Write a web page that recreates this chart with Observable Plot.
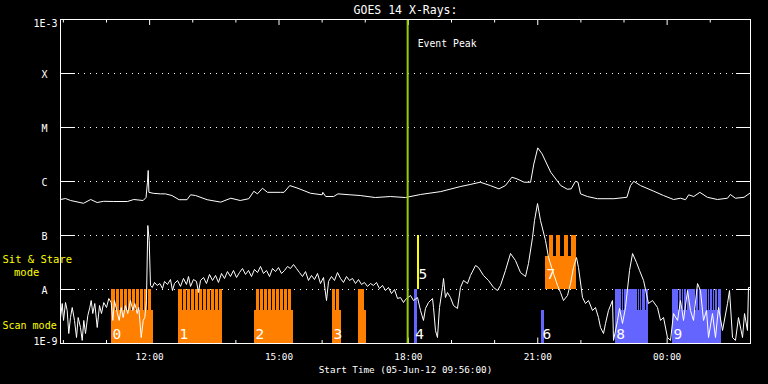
<!DOCTYPE html>
<html><head><meta charset="utf-8">
<script src="https://cdn.jsdelivr.net/npm/d3@7"></script>
<script src="https://cdn.jsdelivr.net/npm/@observablehq/plot@0.6"></script>
<style>
html,body{margin:0;padding:0;background:#000;}
#chart svg{display:block;}
</style></head><body><div id="chart"></div>
<script>
// ---------- data ----------
const startTimeISO = "2012-06-05T09:56:00Z";
const durationMin = 960;           // plotted span (16 h)
const eventPeakMin = 483;          // event peak, minutes after start
const titleText = "GOES 14 X-Rays:";
const xLabelText = "Start Time (05-Jun-12 09:56:00)";
const eventLabel = "Event Peak";

const yTickValues = [1e-9, 1e-8, 1e-7, 1e-6, 1e-5, 1e-4, 1e-3];
const yTickLabels = ["1E-9", "A", "B", "C", "M", "X", "1E-3"];
const gridLevels = [1e-8, 1e-7, 1e-6, 1e-5, 1e-4];
const xMajorTicks = ["2012-06-05T12:00Z", "2012-06-05T15:00Z", "2012-06-05T18:00Z", "2012-06-05T21:00Z", "2012-06-06T00:00Z"];

// GOES long channel (1-8 A), minutes after start / W m^-2
const longMin = [0,7,14,32,42,51,60,74,93,102,115,119,121,122,123,129,139,146,155,165,176,181,188,204,223,237,250,262,269,274,281,288,306,311,319,329,348,364,365,369,380,386,403,417,438,459,480,501,529,557,570,584,598,610,619,628,635,645,654,658.5,664,670,682,696,705,710.5,716.5,720,723.5,733,747,770,788,793,797.6,807,825.5,839,853,862.6,869.6,874,881,889.5,900,914,928,932,939,951,960];
const longFlux = [4.64e-7,4.84e-7,4.45e-7,3.95e-7,4.64e-7,4.08e-7,4.3e-7,4.26e-7,4.26e-7,4.64e-7,4.45e-7,5.05e-7,9.7e-7,1.6e-6,6.3e-7,6.05e-7,5.9e-7,5.9e-7,5.5e-7,4.6e-7,4.6e-7,5.67e-7,5.5e-7,4.6e-7,4.15e-7,4.9e-7,4.45e-7,4.8e-7,6.6e-7,5.9e-7,7.5e-7,6.3e-7,6.3e-7,6.3e-7,8.4e-7,7.6e-7,6.05e-7,5.67e-7,6.3e-7,5.27e-7,5.27e-7,5.9e-7,5.67e-7,5.5e-7,5.05e-7,5.27e-7,5.05e-7,5.75e-7,6.5e-7,8.1e-7,8.8e-7,9.7e-7,8.4e-7,7.3e-7,8.4e-7,1.2e-6,1.12e-6,9.7e-7,9.7e-7,2.1e-6,4.2e-6,3.25e-6,1.49e-6,8.4e-7,7.2e-7,7.3e-7,1.01e-6,9.7e-7,5.9e-7,5.27e-7,4.8e-7,4.8e-7,5.1e-7,8.4e-7,1.01e-6,8.4e-7,6.6e-7,5.5e-7,4.64e-7,4.9e-7,4.6e-7,5.67e-7,5.27e-7,6.3e-7,5.1e-7,4.64e-7,4.9e-7,5.75e-7,4.9e-7,5.1e-7,6.2e-7];

// GOES short channel (0.5-4 A), minutes after start / W m^-2
const shortMin = [0,2.4,4.2,7.0,9.3,11.5,13.9,16.3,19.5,22.3,24.6,27.8,30.2,32.4,34.8,38.0,40.8,42.7,44.9,47.7,51.1,54.3,57.0,60.2,64.0,67.2,70.5,72.8,75.1,78.9,81.7,84.5,87.2,90.4,93.6,97.4,100.6,103.4,106.7,108.9,112.3,115.1,117.3,119.6,121.5,123.4,125.2,127.6,130.8,134.5,138.2,141.9,144.7,148.9,153,155.8,158.6,162.8,167,171.1,175.3,178.1,180.9,185,189.2,192,194.8,199,203.1,207.3,211.5,215.7,219.8,224,228.2,232.3,236.5,240.7,244.9,249,253.2,257.4,261.6,265.7,269.9,274.1,278.3,282.4,286.6,290.8,295,299.1,303.3,307.5,311.7,315.8,320,324.2,328.3,332.5,336.7,340.9,345,349.2,353.4,357.6,361.7,365.9,370.1,372.9,377,381.2,385.4,389.6,393.7,397.9,402.1,406.3,410.4,414.6,418.8,422.9,427.1,431.3,435.5,439.6,443.8,448,452.2,456.3,460.5,464.7,468.9,473,477.2,480,487,491.1,496.7,500.9,505,507.8,512,517.6,519,521.7,524.5,527.3,531.5,532.9,535.6,538.4,542.6,546.8,552.3,556.5,560.7,566.3,570.4,577.4,581.6,588.5,595.5,602.5,608,612.2,619.1,626.1,633,640,647,651.1,656.7,659.5,663.7,667.8,674.8,679,685.9,691.5,695.7,699.8,705.4,709.6,713.7,717.9,720.7,726.3,730.4,734.6,740.2,744.3,748.5,751.3,755.5,758.3,762.4,768,769.4,775,777.8,781.9,786.1,791.7,795.9,801.4,805.6,811.2,818.1,823.7,830.6,834.8,839,844.5,848.7,852.9,858.5,862.6,866.8,872.4,876.5,880.7,886.3,890.4,894.6,898.8,901.6,907.1,911.3,915.5,921.1,928,930.8,935,939.1,943.3,948.9,951.7,955.8,957.2,960];
const shortFlux = [3.0e-9,5.5e-9,2.67e-9,5.74e-9,4.08e-9,1.53e-9,3.03e-9,4.64e-9,2.67e-9,1.29e-9,3.03e-9,1.98e-9,1.14e-9,2.67e-9,1.53e-9,3.3e-9,4.64e-9,6.25e-9,3.59e-9,5.5e-9,1.98e-9,5.05e-9,3.59e-9,5.74e-9,4.64e-9,6.81e-9,5.74e-9,2.67e-9,6.25e-9,3.75e-9,2.67e-9,4.64e-9,3.03e-9,5.05e-9,3.59e-9,6.25e-9,4.08e-9,5.5e-9,3.59e-9,4.64e-9,1.29e-9,2.67e-9,3.03e-9,6.25e-9,1.53e-7,8.07e-8,1.19e-8,1.09e-8,1.35e-8,1.19e-8,1.29e-8,1.04e-8,1.41e-8,1.24e-8,1.53e-8,9.57e-9,1.29e-8,1.47e-8,1.14e-8,1.6e-8,1.24e-8,1.74e-8,1.14e-8,1.53e-8,1.41e-8,8.79e-9,1.47e-8,1.67e-8,1.29e-8,1.9e-8,1.47e-8,1.82e-8,1.35e-8,1.98e-8,1.6e-8,2.15e-8,1.74e-8,2.25e-8,1.67e-8,2.06e-8,2.45e-8,1.9e-8,2.25e-8,1.74e-8,2.35e-8,2.06e-8,2.67e-8,1.98e-8,2.25e-8,1.74e-8,2.45e-8,2.15e-8,2.55e-8,1.98e-8,2.25e-8,2.67e-8,2.45e-8,2.9e-8,2.45e-8,2.06e-8,1.74e-8,2.15e-8,1.47e-8,1.82e-8,1.53e-8,1.98e-8,1.29e-8,1.67e-8,6.25e-9,1.41e-8,1.74e-8,1.47e-8,2.06e-8,1.6e-8,1.35e-8,1.74e-8,1.47e-8,1.6e-8,1.29e-8,1.53e-8,1.24e-8,1.35e-8,1.14e-8,1.29e-8,1.19e-8,1.35e-8,1.04e-8,1.19e-8,9.57e-9,1.09e-8,8.42e-9,1.0e-8,6.81e-9,7.1e-9,5.74e-9,6.52e-9,7.74e-9,6.25e-9,7.1e-9,4.08e-9,2.67e-9,4.45e-9,5.74e-9,6.81e-9,4.64e-9,1.74e-9,1.29e-9,4.64e-9,1.09e-8,1.6e-8,7.1e-9,8.79e-9,7.1e-9,5.05e-9,4.45e-9,1.09e-8,1.47e-8,1.29e-8,1.82e-8,2.78e-8,2.55e-8,1.82e-8,1.47e-8,1.09e-8,9.57e-9,1.19e-8,2.25e-8,4.64e-8,3.44e-8,2.06e-8,1.74e-8,3.03e-8,9.17e-8,1.9e-7,3.91e-7,1.9e-7,8.07e-8,3.91e-8,1.98e-8,1.19e-8,8.79e-9,6.25e-9,7.74e-9,1.29e-8,2.55e-8,3.91e-8,2.55e-8,7.1e-9,5.5e-9,6.25e-9,4.08e-9,4.64e-9,3.03e-9,1.98e-9,1.53e-9,2.35e-9,4.08e-9,6.25e-9,1.14e-9,2.67e-9,4.45e-9,2.35e-9,4.64e-9,2.25e-8,4.64e-8,3.16e-8,2.25e-8,1.47e-8,5.5e-9,6.25e-9,4.64e-9,2.67e-9,3.03e-9,1.29e-9,1.14e-9,3.59e-9,2.67e-9,6.25e-9,2.67e-9,9.57e-9,4.08e-9,2.67e-9,1.29e-8,9.57e-9,2.67e-9,4.08e-9,1.29e-9,3.59e-9,1.29e-9,4.64e-9,1.74e-9,5.5e-9,9.57e-9,1.29e-9,1.14e-9,3.03e-9,1.29e-9,3.59e-9,1.74e-9,1.09e-8,1.09e-8];

// observation blocks
const obsLabel = ["0","1","2","3","","4","5","6","7","8","9"];
const obsMode  = ["scan","scan","scan","scan","scan","scan","sit","scan","sit","scan","scan"];
const obsKind  = ["raster","raster","raster","raster","raster","blue","sit","blue","raster","blue","blue"];
const obsStart = [71.0,164.2,269.9,378.4,414.6,492.1,496.7,669.2,674.8,771.7,851.5];
const obsEnd   = [129.0,225.4,323.8,390.5,425.7,496.3,499.5,673.4,717.5,818.1,919.2];
// individual exposures (spikes) : owning block, start, end (minutes)
const spikeBlock = [0,0,0,0,0,0,0,0,0,0, 1,1,1,1,1,1,1,1,1,1,1, 2,2,2,2,2,2,2,2,2, 3,3, 4,4, 5, 6, 8,8,8,8, 9,9,9,9,9,9,9, 10,10,10,10,10,10,10,10,10,10,10,10];
const spikeStart = [71.0,77.9,83.5,89.0,94.6,100.2,105.7,111.3,116.9,122.4, 164.2,171.1,176.7,182.3,187.8,193.4,199.0,204.5,210.1,215.7,221.2, 272.7,278.3,283.8,289.4,295.0,300.5,306.1,311.7,317.2, 378.4,384.4, 414.6,419.2, 492.1, 496.7, 680.3,690.5,701.2,711.3, 771.7,782.3,785.1,804.2,807.0,810.2,815.3, 851.5,861.7,864.9,868.6,871.8,885.3,888.5,901.6,904.8,908.5,911.7,914.9];
const spikeEnd   = [76.5,82.1,87.7,93.2,98.8,104.3,109.9,115.5,121.0,126.2, 169.7,175.3,180.9,186.4,192.0,197.6,203.1,208.7,214.3,219.8,225.4, 276.9,282.4,288.0,293.6,299.1,304.7,310.3,315.8,321.0, 382.6,388.2, 418.4,422.9, 496.3, 499.5, 685.9,696.1,706.8,717.5, 780.9,783.7,802.7,805.6,808.8,813.9,818.1, 860.3,863.5,867.3,870.4,883.9,887.1,900.2,903.4,907.1,910.3,913.5,919.2];

// mode bands (flux levels): base, top of continuous part, top of exposure spikes
const modeLevels = {scan: {base: 1e-9, mid: 4.08e-9, top: 1e-8}, sit: {base: 1e-8, mid: 4.08e-8, top: 1e-7}};

// ---------- styles ----------
const MONO = "DejaVu Sans Mono";
const kindColor = {raster: "#ff8000", blue: "#6464ff", sit: "#ffff00"};
const WHITE = "#ffffff", YELLOW = "#ffff00", PEAK = "#99cc00";

// ---------- build ----------
const t0 = Date.parse(startTimeISO);
const T = m => new Date(t0 + m * 60000);
const longData = longMin.map((m, i) => ({t: T(m), v: longFlux[i]}));
const shortData = shortMin.map((m, i) => ({t: T(m), v: shortFlux[i]}));
const blocks = obsLabel.map((lab, i) => ({
  label: lab, mode: obsMode[i], color: kindColor[obsKind[i]],
  t1: T(obsStart[i]), t2: T(obsEnd[i]),
  base: modeLevels[obsMode[i]].base, mid: modeLevels[obsMode[i]].mid
}));
const spikes = spikeBlock.map((b, i) => ({
  t1: T(spikeStart[i]), t2: T(spikeEnd[i]), color: blocks[b].color,
  y1: modeLevels[obsMode[b]].mid, y2: modeLevels[obsMode[b]].top
}));
const hourTicks = d3.utcHour.range(T(0), T(durationMin));
const majorTicks = xMajorTicks.map(s => new Date(s));
const minorTicks = hourTicks.filter(h => !majorTicks.some(m => +m === +h));
const yLabelData = yTickValues.map((v, i) => ({v, label: yTickLabels[i]}));
const FH = 324, FW = 690; // frame height / width (px) for tick insets

const chart = Plot.plot({
  width: 768, height: 384,
  marginLeft: 60, marginRight: 18, marginTop: 19, marginBottom: 41,
  style: {background: "#000", color: WHITE, fontFamily: MONO, overflow: "visible"},
  x: {type: "utc", domain: [T(0), T(durationMin)], axis: null},
  y: {type: "log", domain: [1e-9, 1e-3], axis: null},
  marks: [
    // dotted grid lines
    Plot.ruleY(gridLevels, {stroke: WHITE, strokeDasharray: "1,5", insetLeft: 18, insetRight: 14}),
    // y ticks (left and right, inward)
    Plot.ruleY(yTickValues, {stroke: WHITE, insetRight: FW - 15}),
    Plot.ruleY(yTickValues, {stroke: WHITE, insetLeft: FW - 14}),
    // x ticks top & bottom
    Plot.ruleX(minorTicks, {stroke: WHITE, insetBottom: FH - 3.5}),
    Plot.ruleX(majorTicks, {stroke: WHITE, insetBottom: FH - 6}),
    Plot.ruleX(minorTicks, {stroke: WHITE, insetTop: FH - 3}),
    Plot.ruleX(majorTicks, {stroke: WHITE, insetTop: FH - 5.5}),
    // observation blocks
    Plot.rect(blocks, {x1: "t1", x2: "t2", y1: "base", y2: "mid", fill: "color", shapeRendering: "crispEdges"}),
    Plot.rect(spikes, {x1: "t1", x2: "t2", y1: "y1", y2: "y2", fill: "color", shapeRendering: "crispEdges"}),
    // GOES curves
    Plot.line(longData, {x: "t", y: "v", stroke: WHITE, strokeWidth: 1, clip: true}),
    Plot.line(shortData, {x: "t", y: "v", stroke: WHITE, strokeWidth: 1, clip: true}),
    // event peak
    Plot.ruleX([T(eventPeakMin)], {stroke: PEAK, strokeWidth: 2}),
    Plot.text([eventLabel], {x: () => T(eventPeakMin), frameAnchor: "top", dx: 10, dy: 27.5, textAnchor: "start", lineAnchor: "bottom", fill: WHITE, fontSize: 9.8, fontFamily: MONO}),
    // block labels
    Plot.text(blocks.filter(d => d.label && d.mode === "scan"), {x: "t1", y: "base", text: "label", dx: 1, dy: -5, textAnchor: "start", lineAnchor: "bottom", fill: WHITE, fontSize: 14.5, fontFamily: MONO}),
    Plot.text(blocks.filter(d => d.label && d.mode === "sit"), {x: "t1", y: "base", text: "label", dx: 1, dy: -11, textAnchor: "start", lineAnchor: "bottom", fill: WHITE, fontSize: 14.5, fontFamily: MONO}),
    // frame
    Plot.frame({stroke: WHITE}),
    // y labels
    Plot.text(yLabelData.filter(d => d.label.length > 1 && d.v > 1e-6), {y: "v", text: "label", frameAnchor: "left", dx: -3, dy: 4, textAnchor: "end", fill: WHITE, fontSize: 10, fontFamily: MONO}),
    Plot.text(yLabelData.filter(d => d.label.length > 1 && d.v < 1e-6), {y: "v", text: "label", frameAnchor: "left", dx: -3, dy: -2, textAnchor: "end", fill: WHITE, fontSize: 10, fontFamily: MONO}),
    Plot.text(yLabelData.filter(d => d.label.length === 1), {y: "v", text: "label", frameAnchor: "left", dx: -16, dy: 1, textAnchor: "middle", fill: WHITE, fontSize: 10, fontFamily: MONO}),
    // mode labels
    Plot.text(["Sit & Stare"], {y: () => modeLevels.sit.base, frameAnchor: "left", dx: -58, dy: -27, textAnchor: "start", lineAnchor: "bottom", fill: YELLOW, fontSize: 10.5, fontFamily: MONO}),
    Plot.text(["mode"], {y: () => modeLevels.sit.base, frameAnchor: "left", dx: -46.5, dy: -14, textAnchor: "start", lineAnchor: "bottom", fill: YELLOW, fontSize: 10.5, fontFamily: MONO}),
    Plot.text(["Scan mode"], {y: () => modeLevels.scan.base, frameAnchor: "left", dx: -58, dy: -15, textAnchor: "start", lineAnchor: "bottom", fill: YELLOW, fontSize: 10, fontFamily: MONO}),
    // x tick labels
    Plot.text(majorTicks, {x: d => d, text: d3.utcFormat("%H:%M"), frameAnchor: "bottom", dy: 16, lineAnchor: "bottom", fill: WHITE, fontSize: 9.4, fontFamily: MONO}),
    // x label and title
    Plot.text([xLabelText], {frameAnchor: "bottom", dy: 29, lineAnchor: "bottom", fill: WHITE, fontSize: 9.3, fontFamily: MONO}),
    Plot.text([titleText], {frameAnchor: "top", dy: -6, lineAnchor: "bottom", fill: WHITE, fontSize: 11.5, fontFamily: MONO})
  ]
});
document.getElementById("chart").append(chart);
</script>
</body></html>
